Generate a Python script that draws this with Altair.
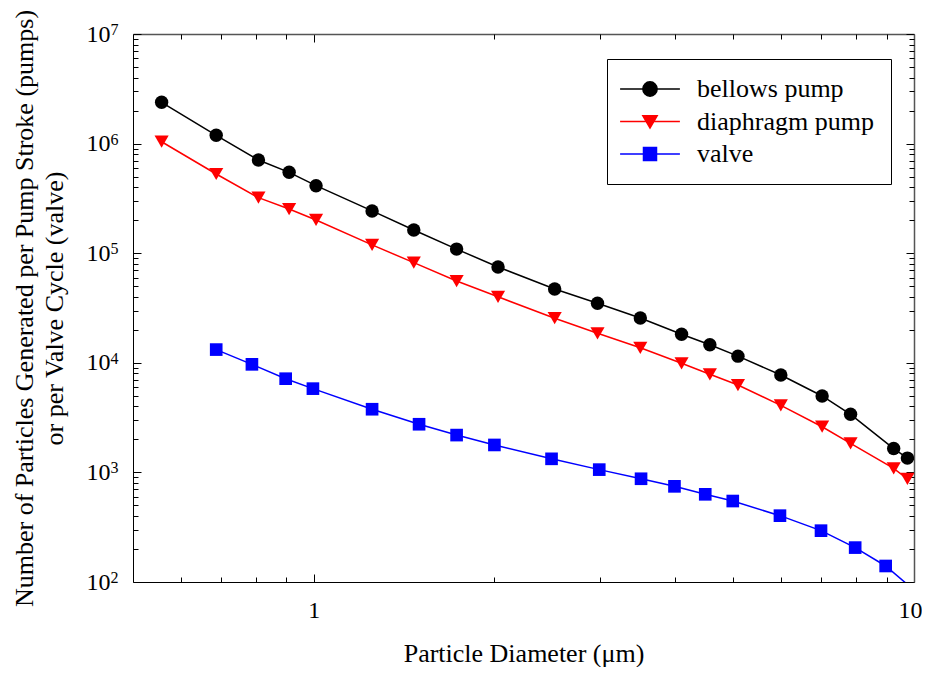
import altair as alt
import pandas as pd

# ---------------- data ----------------
series_names = ["bellows pump", "diaphragm pump", "valve"]
series_colors = ["#000000", "#ff0000", "#0000ff"]

pump_diameter = [0.558, 0.688, 0.809, 0.910, 1.009, 1.251, 1.468, 1.730, 2.028,
                 2.52, 2.97, 3.50, 4.10, 4.57, 5.09, 6.00, 7.03, 7.84, 9.25, 9.75]
bellows_counts = [2.38e6, 1.19e6, 7.08e5, 5.47e5, 4.13e5, 2.43e5, 1.63e5, 1.09e5, 7.48e4,
                  4.71e4, 3.49e4, 2.56e4, 1.82e4, 1.46e4, 1.15e4, 7.74e3, 4.98e3, 3.39e3,
                  1.65e3, 1.35e3]
diaphragm_counts = [1.04e6, 5.28e5, 3.21e5, 2.53e5, 2.01e5, 1.19e5, 8.2e4, 5.57e4, 4.0e4,
                    2.55e4, 1.86e4, 1.37e4, 9.9e3, 7.85e3, 6.27e3, 4.09e3, 2.61e3, 1.84e3,
                    1.09e3, 871]
valve_diameter = [0.688, 0.789, 0.898, 0.997, 1.251, 1.498, 1.730, 2.00, 2.49, 2.99,
                  3.51, 3.99, 4.49, 4.99, 5.98, 7.00, 7.98, 8.97, 9.75]
valve_counts = [1.32e4, 9.68e3, 7.16e3, 5.81e3, 3.77e3, 2.75e3, 2.19e3, 1.78e3, 1.33e3,
                1.06e3, 875, 746, 631, 548, 403, 294, 206, 140, 95]

x_major = [1, 10]
x_minor = [0.6, 0.7, 0.8, 0.9, 2, 3, 4, 5, 6, 7, 8, 9]
y_major = [1e2, 1e3, 1e4, 1e5, 1e6, 1e7]
y_minor = [m * 10 ** e for e in range(2, 7) for m in range(2, 10)]

x_title = "Particle Diameter (\u03bcm)"
y_title = ["Number of Particles Generated per Pump Stroke (pumps)",
           "or per Valve Cycle (valve)"]

rows = []
for d, v in zip(pump_diameter, bellows_counts):
    rows.append({"series": "bellows pump", "diameter": d, "count": v})
for d, v in zip(pump_diameter, diaphragm_counts):
    rows.append({"series": "diaphragm pump", "diameter": d, "count": v})
for d, v in zip(valve_diameter, valve_counts):
    rows.append({"series": "valve", "diameter": d, "count": v})
df = pd.DataFrame(rows)

# ---------------- layout ----------------
W, H = 781, 548
FONT = "Liberation Serif"

x_scale = alt.Scale(type="log", domain=[0.5, 10], nice=False)
y_scale = alt.Scale(type="log", domain=[100, 1e7], nice=False)


def tick_axis(orient, values, size, offset, domain=False, dcolor="#000000", dwidth=1.0):
    return alt.Axis(orient=orient, values=values, tickSize=size, offset=offset,
                    labels=False, domain=domain, domainColor=dcolor, domainWidth=dwidth,
                    grid=False, ticks=True, tickColor="#000000", tickWidth=1)


def X(axis, title=None):
    if axis is None:
        return alt.X("diameter:Q", scale=x_scale, axis=None)
    return alt.X("diameter:Q", scale=x_scale, axis=axis, title=title)


def Y(axis, title=None):
    if axis is None:
        return alt.Y("count:Q", scale=y_scale, axis=None)
    return alt.Y("count:Q", scale=y_scale, axis=axis, title=title)


# label axes
xA = alt.Axis(orient="bottom", values=x_major, labelExpr="format(datum.value, 'd')",
              ticks=False, tickSize=0, domain=False, grid=False, labelPadding=16,
              labelFontSize=24, labelFlush=True, labelFlushOffset=8, labelOverlap=False,
              titleFontSize=26, titlePadding=18.5)
yA = alt.Axis(orient="left", values=y_major, labelExpr="'10'", ticks=False, tickSize=0,
              domain=False, grid=False, labelPadding=23, labelFontSize=24,
              labelAlign="right", labelBaseline="middle", labelOverlap=False,
              titleFontSize=26, titlePadding=19, titleLineHeight=30)
yB = alt.Axis(orient="left", values=y_major,
              labelExpr="format(round(log(datum.value)/LN10), 'd')",
              ticks=False, tickSize=0, domain=False, grid=False, labelPadding=23,
              labelFontSize=16, labelAlign="left", labelBaseline="middle",
              labelOffset=-4.5, labelOverlap=False)

# inward tick axes (drawn from the opposite side with a negative offset)
xB = tick_axis("top", x_major, 8, -H, domain=True)             # bottom frame, major
xC = tick_axis("top", x_minor, 5, -H)                          # bottom frame, minor
xD = tick_axis("bottom", x_major, 8, -H, domain=True, dcolor="#555555", dwidth=1.5)  # top frame
xE = tick_axis("bottom", x_minor, 5, -H)                       # top frame, minor
yC = tick_axis("right", y_major, 8, -W, domain=True)           # left frame, major
yD = tick_axis("right", y_minor, 5, -W)                        # left frame, minor
yE = tick_axis("left", y_major, 8, -W, domain=True, dcolor="#555555", dwidth=1.5)   # right frame
yF = tick_axis("left", y_minor, 5, -W)                         # right frame, minor

shapes = ["circle", "triangle-down", "square"]
sizes = [180, 200, 160]
x_axes = [xA, xB, xC, xD, xE, None]
y_axes = [yA, yB, yC, yD, yE, yF]

layers = []
# lines (one layer per series, constant colour)
for i, name in enumerate(series_names):
    layers.append(
        alt.Chart(df).transform_filter(alt.datum.series == name)
        .mark_line(strokeWidth=1.5, clip=True, color=series_colors[i])
        .encode(x=X(x_axes[i], x_title if i == 0 else None),
                y=Y(y_axes[i], y_title if i == 0 else None))
    )
# markers
for i, name in enumerate(series_names):
    flt = alt.datum.series == name
    if name == "valve":
        flt = flt & (alt.datum["count"] >= 100)
    layers.append(
        alt.Chart(df).transform_filter(flt)
        .mark_point(shape=shapes[i], filled=True, size=sizes[i], color=series_colors[i],
                    opacity=1, clip=True)
        .encode(x=X(x_axes[3 + i]), y=Y(y_axes[3 + i]))
    )

# legend (invisible marks; the legend symbols show line + marker)
legend_paths = [
    "M-4.6,0H4.6M-1.1,0A1.1,1.1,0,1,0,1.1,0A1.1,1.1,0,1,0,-1.1,0Z",
    "M-4.6,0H4.6M-1.1,-0.9L1.1,-0.9L0,1Z",
    "M-4.6,0H4.6M-1,-1H1V1H-1Z",
]
leg = alt.Legend(title=None, orient="none", legendX=474, legendY=25,
                 labelFont=FONT, labelFontSize=26, labelColor="#000000", labelLimit=400,
                 symbolSize=169, symbolStrokeWidth=1.5, symbolOpacity=1,
                 symbolOffset=13, labelOffset=34, padding=17, rowPadding=6.5,
                 fillColor="#ffffff", strokeColor="#000000", cornerRadius=0)
color_scale = alt.Scale(domain=series_names, range=series_colors)
layers.append(
    alt.Chart(df).mark_point(filled=True, opacity=0, size=169, clip=True).encode(
        x=X(None), y=Y(None),
        fill=alt.Fill("series:N", scale=color_scale, legend=leg),
        stroke=alt.Stroke("series:N", scale=color_scale, legend=leg),
        shape=alt.Shape("series:N",
                        scale=alt.Scale(domain=series_names, range=legend_paths),
                        legend=leg),
    )
)

chart = alt.layer(*layers).resolve_axis(
    x="independent", y="independent"
).properties(
    width=W, height=H,
    autosize=alt.AutoSizeParams(type="none"),
    padding={"left": 125, "top": 26, "right": 8, "bottom": 85},
).configure_view(
    stroke=None
).configure_axis(
    labelFont=FONT, titleFont=FONT, labelColor="#000000", titleColor="#000000",
    titleFontWeight="normal"
)

chart.save("out.html", embed_options={"renderer": "svg", "actions": False})
